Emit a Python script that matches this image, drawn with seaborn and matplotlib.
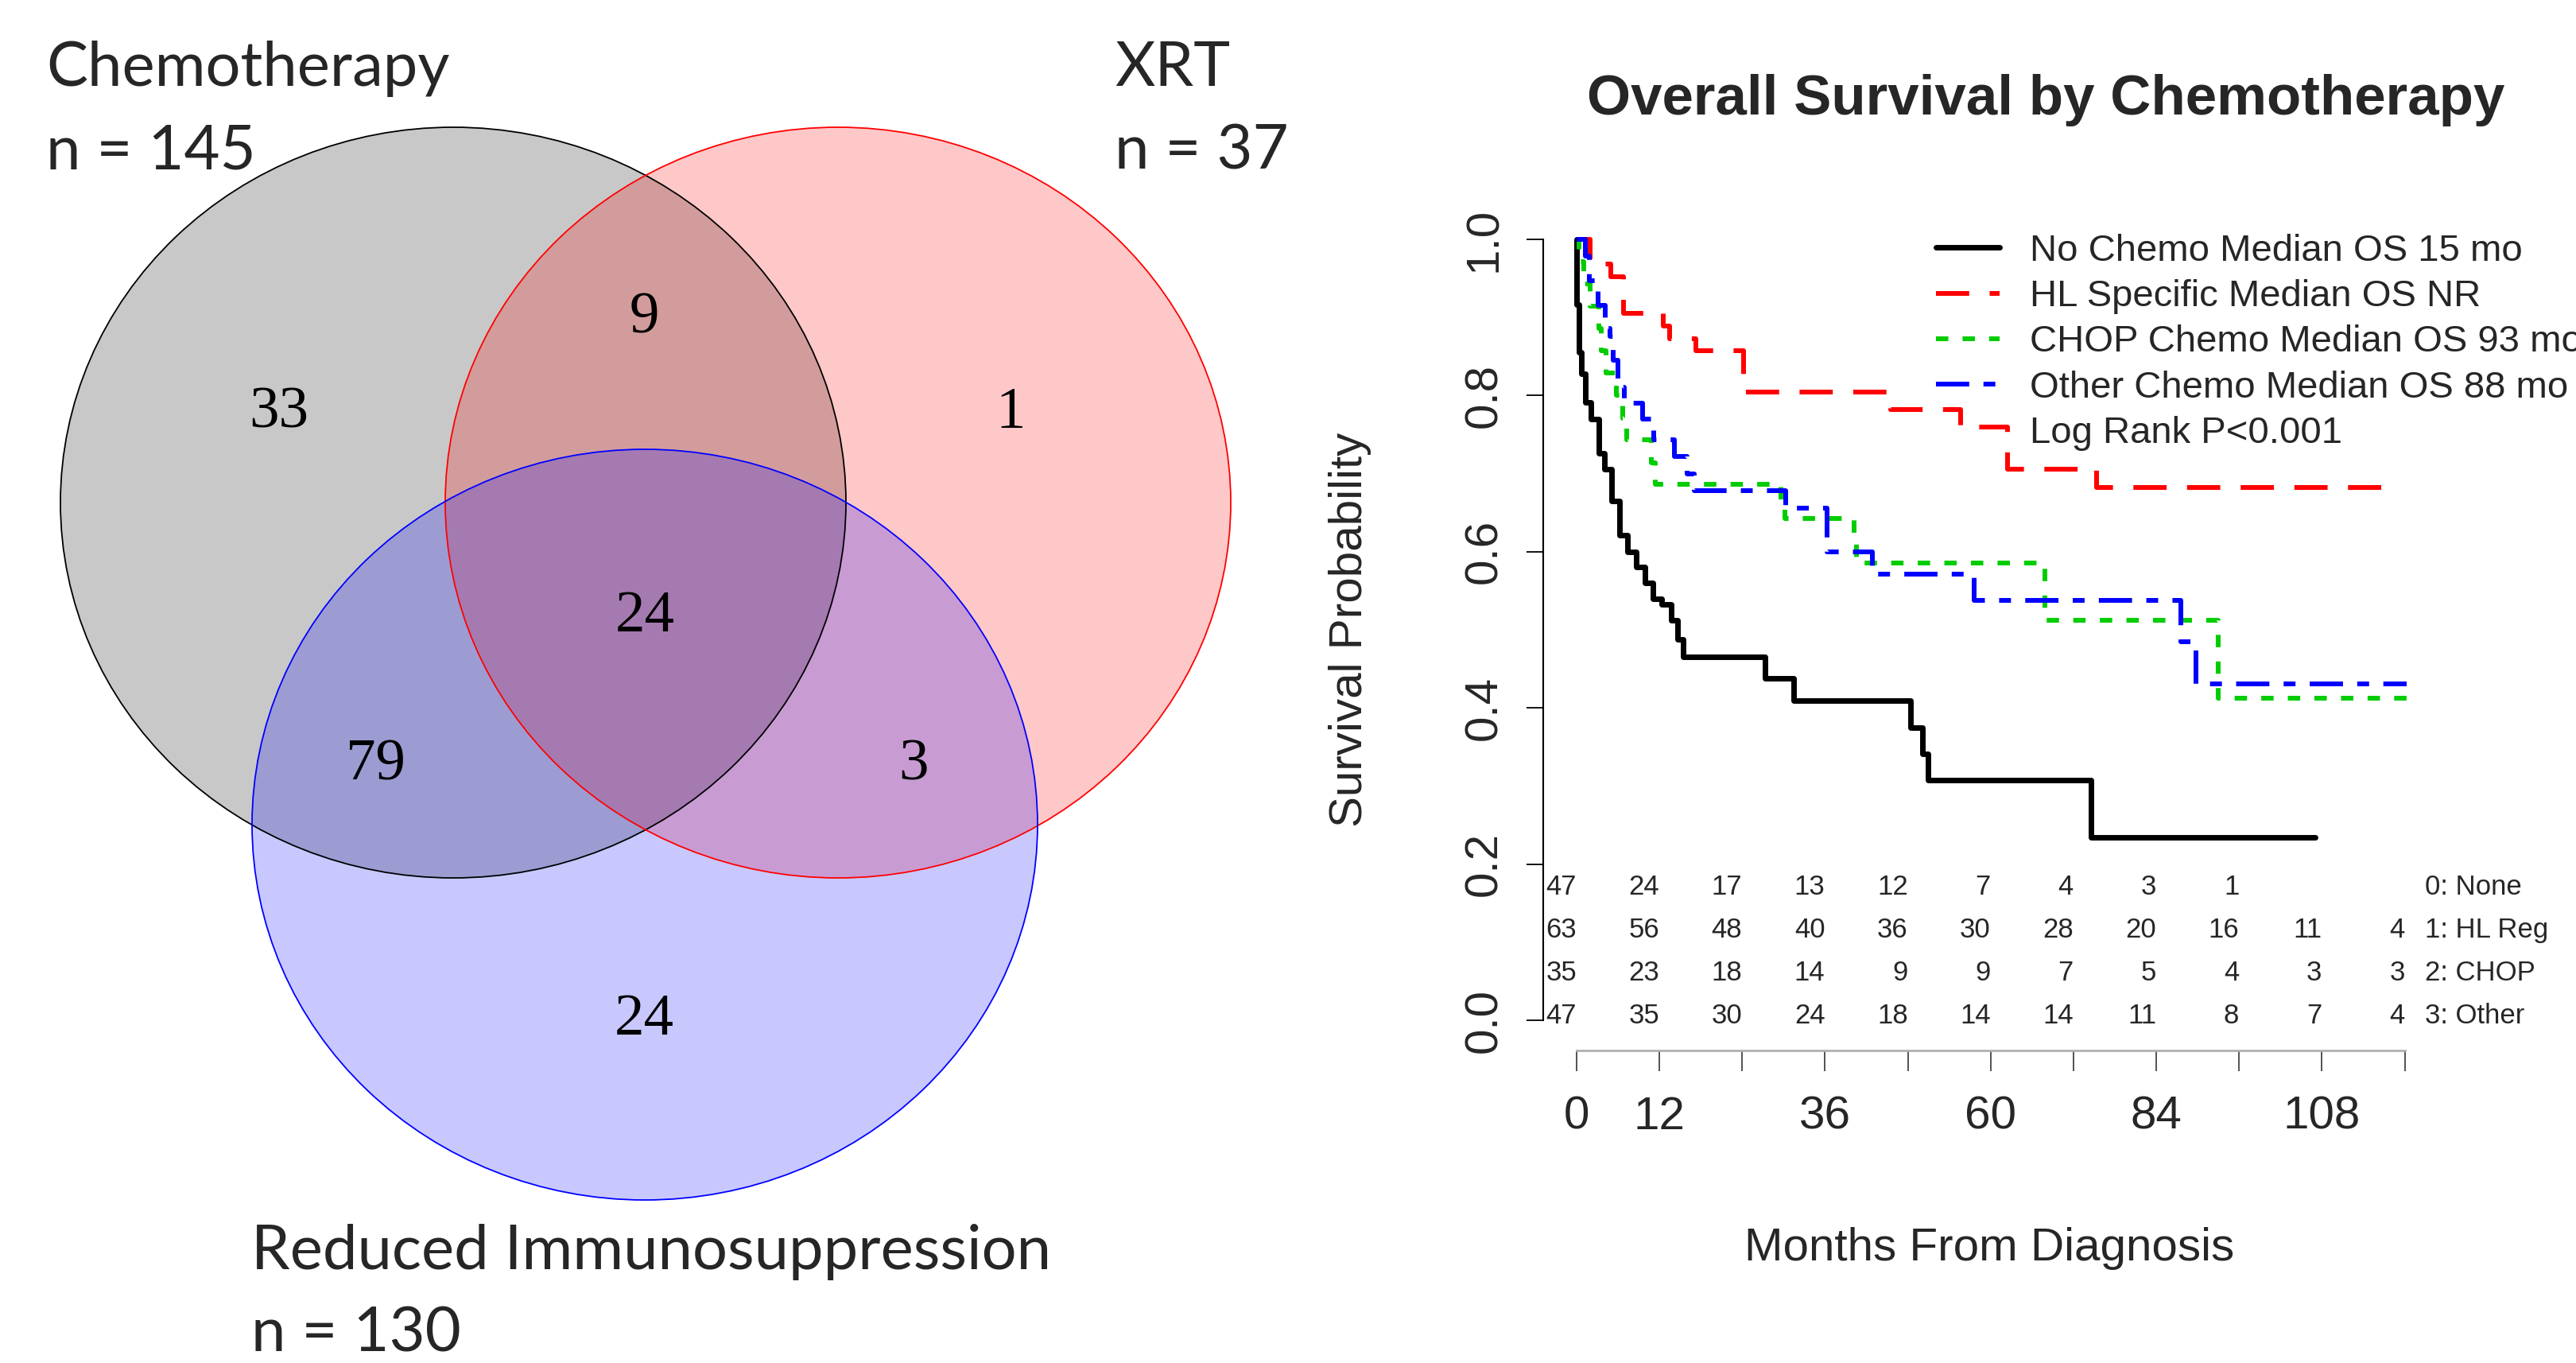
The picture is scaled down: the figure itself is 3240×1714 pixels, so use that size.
import numpy as np
import pandas as pd
import matplotlib
matplotlib.use("Agg")
import matplotlib.pyplot as plt
import seaborn as sns
from matplotlib.patches import Ellipse
from matplotlib.lines import Line2D

sns.set_style("ticks")
plt.rcParams['font.family'] = ['Liberation Sans', 'DejaVu Sans']

# ------------------------------------------------------------------ data
venn_sets = ["Chemotherapy", "XRT", "Reduced Immunosuppression"]
venn_totals = [145, 37, 130]
venn_regions = ["C", "CX", "X", "CXR", "CR", "XR", "R"]
venn_counts = [33, 9, 1, 24, 79, 3, 24]

km_none_t = [0, 0.05, 0.35, 0.73, 1.3, 2.07, 3.2, 4.07, 5.1, 6.18, 7.4, 8.6, 9.9,
             11.1, 12.3, 13.7, 14.6, 15.4, 27.3, 31.5, 48.4, 50.1, 50.9, 74.5, 107.0]
km_none_s = [1.0, 0.916, 0.855, 0.828, 0.791, 0.770, 0.726, 0.706, 0.665, 0.621, 0.600, 0.580, 0.560,
             0.540, 0.533, 0.512, 0.488, 0.465, 0.4375, 0.409, 0.375, 0.341, 0.308, 0.234, 0.234]

km_hl_t = [0, 2.0, 5.0, 6.8, 12.6, 13.5, 17.3, 24.2, 45.5, 55.7, 62.4, 75.3, 118.0]
km_hl_s = [1.0, 0.968, 0.952, 0.905, 0.889, 0.873, 0.857, 0.804, 0.782, 0.760, 0.706, 0.682, 0.682]

km_chop_t = [0, 0.4, 1.0, 2.0, 3.2, 3.6, 4.3, 5.8, 6.7, 7.3, 10.8, 11.4, 29.6, 30.2,
             40.2, 40.6, 67.8, 93.0, 120.3]
km_chop_s = [1.0, 0.971, 0.943, 0.914, 0.886, 0.857, 0.829, 0.800, 0.771, 0.743, 0.714, 0.686, 0.657, 0.643,
             0.614, 0.586, 0.512, 0.412, 0.412]

km_other_t = [0, 1.3, 1.8, 3.1, 4.1, 4.8, 5.3, 6.0, 6.9, 9.6, 11.2, 14.2, 16.0, 17.0,
              30.3, 36.3, 42.9, 57.6, 87.6, 89.7, 120.3]
km_other_s = [1.0, 0.979, 0.947, 0.915, 0.886, 0.876, 0.845, 0.811, 0.790, 0.770, 0.743, 0.722, 0.700, 0.678,
              0.656, 0.600, 0.571, 0.538, 0.485, 0.431, 0.431]

legend_labels = ["No Chemo Median OS 15 mo", "HL Specific Median OS NR",
                 "CHOP Chemo Median OS 93 mo", "Other Chemo Median OS 88 mo",
                 "Log Rank P<0.001"]

risk_times = [0, 12, 24, 36, 48, 60, 72, 84, 96, 108, 120]
risk_none = [47, 24, 17, 13, 12, 7, 4, 3, 1, None, None]
risk_hl = [63, 56, 48, 40, 36, 30, 28, 20, 16, 11, 4]
risk_chop = [35, 23, 18, 14, 9, 9, 7, 5, 4, 3, 3]
risk_other = [47, 35, 30, 24, 18, 14, 14, 11, 8, 7, 4]
risk_group_labels = ["0: None", "1: HL Reg", "2: CHOP", "3: Other"]

x_tick_values = [0, 12, 24, 36, 48, 60, 72, 84, 96, 108, 120]
x_tick_labels = ["0", "12", "", "36", "", "60", "", "84", "", "108", ""]
y_tick_values = [0.0, 0.2, 0.4, 0.6, 0.8, 1.0]
y_tick_labels = ["0.0", "0.2", "0.4", "0.6", "0.8", "1.0"]

# ------------------------------------------------------------------ figure
W_PX, H_PX, DPI = 3240, 1714, 100
fig = plt.figure(figsize=(W_PX / DPI, H_PX / DPI), dpi=DPI)
fig.patch.set_facecolor("white")

# ---------------- Venn diagram (axes in pixel units)
vax = fig.add_axes([0, 0, 1700 / W_PX, 1])
vax.set_xlim(0, 1700)
vax.set_ylim(H_PX, 0)
vax.axis("off")

ell_w, ell_h = 988, 944
centers = {"C": (570, 632), "X": (1054, 632), "R": (811, 1037)}
colors = {"C": "black", "X": "red", "R": "blue"}
for k in ["C", "X", "R"]:
    vax.add_patch(Ellipse(centers[k], ell_w, ell_h, facecolor=colors[k],
                          alpha=0.215, edgecolor="none"))
for k in ["C", "X", "R"]:
    vax.add_patch(Ellipse(centers[k], ell_w, ell_h, fill=False,
                          edgecolor=colors[k], lw=1.3))

region_pos = {"C": (351, 520), "CX": (810, 401), "X": (1271, 520),
              "CXR": (811, 776), "CR": (473, 963), "XR": (1149, 963),
              "R": (810, 1283)}
for reg, cnt in zip(venn_regions, venn_counts):
    x, y = region_pos[reg]
    vax.text(x, y, str(cnt), ha="center", va="center", fontsize=54,
             family=["Liberation Serif", "DejaVu Serif"], color="black")

set_label_pos = [(58, 108), (1402, 108), (316, 1596)]
for (x, y), name, tot in zip(set_label_pos, venn_sets, venn_totals):
    vax.text(x, y, name, ha="left", va="baseline", fontsize=56,
             family=["Lato", "DejaVu Sans"])
    vax.text(x, y + 104, f"n = {tot}", ha="left", va="baseline", fontsize=56,
             family=["Lato", "DejaVu Sans"])

# ---------------- Kaplan-Meier panel
px_per_month = 8.68
x0_px = 1983
s0_px, px_per_s = 1283, 982
ax_l_px, ax_r_px, ax_t_px, ax_b_px = 1941, 3060, 262, 1321
ax = fig.add_axes([ax_l_px / W_PX, 1 - ax_b_px / H_PX,
                   (ax_r_px - ax_l_px) / W_PX, (ax_b_px - ax_t_px) / H_PX])
ax.set_facecolor("none")
ax.set_xlim((ax_l_px - x0_px) / px_per_month, (ax_r_px - x0_px) / px_per_month)
ax.set_ylim((s0_px - ax_b_px) / px_per_s, (s0_px - ax_t_px) / px_per_s)

groups = [
    (km_none_t, km_none_s, "black", 5.0, "-"),
    (km_hl_t, km_hl_s, "#ff0000", 4.3, (0, (7, 4.3))),
    (km_chop_t, km_chop_s, "#00cd00", 4.3, (0, (2.6, 3.0))),
    (km_other_t, km_other_s, "#0000ff", 4.3, (0, (7, 3, 2.5, 3))),
]
for t, s, c, lw, ls in groups:
    df = pd.DataFrame({"month": t, "surv": s})
    sns.lineplot(data=df, x="month", y="surv", ax=ax, color=c, lw=lw,
                 linestyle=ls, drawstyle="steps-post", estimator=None,
                 sort=False, legend=False)

handles = [Line2D([], [], color=c, lw=lw, linestyle=ls) for _, _, c, lw, ls in groups]
handles.append(Line2D([], [], color="none"))
leg_fs = 34
ax.legend(handles, legend_labels, loc="upper left",
          bbox_to_anchor=(2435 / W_PX, 1 - 294 / H_PX), bbox_transform=fig.transFigure,
          frameon=False, fontsize=leg_fs, handlelength=1.7, handletextpad=0.8,
          labelspacing=0.28, borderpad=0, borderaxespad=0)

# risk table
risk_rows = [risk_none, risk_hl, risk_chop, risk_other]
row_y = [0.171, 0.116, 0.061, 0.006]
for vals, yy, lab in zip(risk_rows, row_y, risk_group_labels):
    for tt, v in zip(risk_times, vals):
        if v is not None:
            ax.text(tt, yy, str(v), ha="right", va="center", fontsize=25)
    ax.text(122.9, yy, lab, ha="left", va="center", fontsize=25)

# axes styling
for sp in ["top", "right"]:
    ax.spines[sp].set_visible(False)
ax.spines["left"].set_bounds(0, 1)
ax.spines["left"].set_linewidth(1.5)
ax.spines["left"].set_color("black")
ax.spines["bottom"].set_bounds(0, 120)
ax.spines["bottom"].set_linewidth(2.0)
ax.spines["bottom"].set_color("#b0b0b0")

ax.set_xticks(x_tick_values)
ax.set_xticklabels(x_tick_labels, fontsize=42)
ax.set_yticks(y_tick_values)
ax.set_yticklabels(y_tick_labels, fontsize=42, rotation=90, va="center")
ax.tick_params(axis="x", direction="out", length=19, width=1.3, color="#444444", pad=22)
ax.tick_params(axis="y", direction="out", length=15, width=1.3, color="black", pad=19)

ax.set_xlabel("Months From Diagnosis", fontsize=42)
ax.xaxis.set_label_coords((2502 - ax_l_px) / (ax_r_px - ax_l_px),
                          (ax_b_px - 1570) / (ax_b_px - ax_t_px))
ax.xaxis.label.set_va("center")
ax.set_ylabel("Survival Probability", fontsize=42)
ax.yaxis.set_label_coords((1698 - ax_l_px) / (ax_r_px - ax_l_px),
                          (ax_b_px - 792) / (ax_b_px - ax_t_px))
ax.yaxis.label.set_va("center")

ax.text((2573 - ax_l_px) / (ax_r_px - ax_l_px), (ax_b_px - 126) / (ax_b_px - ax_t_px),
        "Overall Survival by Chemotherapy", transform=ax.transAxes,
        ha="center", va="center", fontsize=51, fontweight="bold")

fig.savefig("out.png", dpi=DPI)
